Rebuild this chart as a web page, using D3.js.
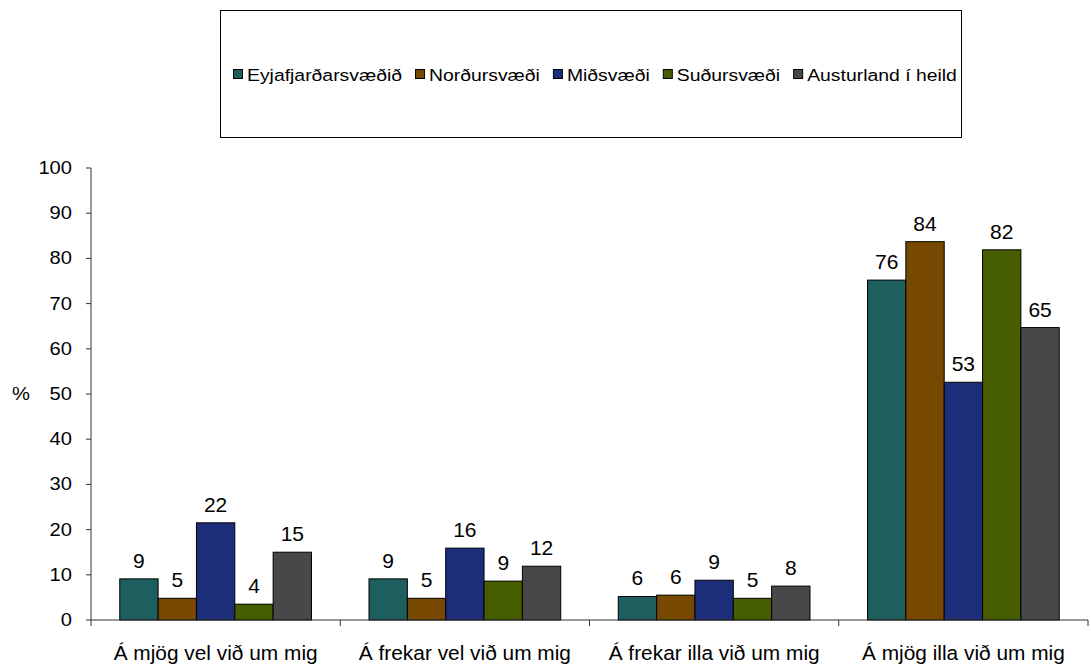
<!DOCTYPE html>
<html>
<head>
<meta charset="utf-8">
<script src="https://cdn.jsdelivr.net/npm/d3@7"></script>
<style>
  html, body { margin: 0; padding: 0; background: #fff; }
  svg { display: block; font-family: "Liberation Sans", Arial, sans-serif; }
</style>
</head>
<body>
<svg id="chart" width="1091" height="669"></svg>
<script>
// ---- data ----
const categories = ["Á mjög vel við um mig", "Á frekar vel við um mig", "Á frekar illa við um mig", "Á mjög illa við um mig"];
const seriesNames = ["Eyjafjarðarsvæðið", "Norðursvæði", "Miðsvæði", "Suðursvæði", "Austurland í heild"];
// bar heights (%)
const eyjafjardarsvaedid = [9.1, 9.1, 5.2, 75.2];
const nordursvaedi       = [4.8, 4.8, 5.5, 83.7];
const midsvaedi          = [21.5, 15.9, 8.8, 52.6];
const sudursvaedi        = [3.5, 8.6, 4.8, 81.9];
const austurland         = [15.0, 11.9, 7.5, 64.7];
// printed data labels
const labelsEyja   = ["9", "9", "6", "76"];
const labelsNord   = ["5", "5", "6", "84"];
const labelsMid    = ["22", "16", "9", "53"];
const labelsSud    = ["4", "9", "5", "82"];
const labelsAust   = ["15", "12", "8", "65"];
const yTicks = [0, 10, 20, 30, 40, 50, 60, 70, 80, 90, 100];
const colors = ["#1d5f5f", "#774800", "#1c2e7a", "#475e00", "#484848"];

const seriesValues = [eyjafjardarsvaedid, nordursvaedi, midsvaedi, sudursvaedi, austurland];
const seriesLabels = [labelsEyja, labelsNord, labelsMid, labelsSud, labelsAust];

const svg = d3.select("#chart");

// ---- scales ----
const x0 = d3.scaleBand().domain(categories).range([91, 1088]).paddingInner(0).paddingOuter(0);
const x1 = d3.scaleBand().domain(seriesNames).range([0, x0.bandwidth()]).paddingInner(0).paddingOuter(0.75);
const y = d3.scaleLinear().domain([0, 100]).range([620, 168]);
const color = d3.scaleOrdinal().domain(seriesNames).range(colors);

// helper for horizontally stretched text
function stretchedText(parent, x, yy, txt, size, sx, anchor) {
  const g = parent.append("g").attr("transform", `translate(${x},${yy}) scale(${sx},1)`);
  return g.append("text").attr("x", 0).attr("y", 0)
    .attr("font-size", size).attr("text-anchor", anchor).attr("fill", "#000").text(txt);
}

// ---- bars ----
const rows = [];
categories.forEach((c, ci) => {
  seriesNames.forEach((s, si) => {
    rows.push({ cat: c, series: s, value: seriesValues[si][ci], label: seriesLabels[si][ci] });
  });
});

svg.append("g").selectAll("rect").data(rows).join("rect")
  .attr("x", d => x0(d.cat) + x1(d.series))
  .attr("y", d => y(d.value))
  .attr("width", x1.bandwidth())
  .attr("height", d => y(0) - y(d.value))
  .attr("fill", d => color(d.series))
  .attr("stroke", "#000")
  .attr("stroke-width", 1);

// data labels
const lblG = svg.append("g");
rows.forEach(d => {
  stretchedText(lblG, x0(d.cat) + x1(d.series) + x1.bandwidth() / 2, y(d.value) - 11, d.label, 20, 1.05, "middle");
});

// ---- y axis ----
const yAxis = svg.append("g");
yAxis.append("line").attr("x1", 91).attr("x2", 91).attr("y1", y(100)).attr("y2", y(0))
  .attr("stroke", "#333").attr("stroke-width", 1);
yTicks.forEach(t => {
  yAxis.append("line").attr("x1", 86).attr("x2", 91).attr("y1", y(t)).attr("y2", y(t))
    .attr("stroke", "#333").attr("stroke-width", 1);
  stretchedText(yAxis, 72, y(t) + 6, String(t), 17.5, 1.15, "end");
});
stretchedText(svg, 21, y(50) + 6, "%", 17.5, 1.15, "middle");

// ---- x axis ----
const xAxis = svg.append("g");
xAxis.append("line").attr("x1", 91).attr("x2", 1088).attr("y1", y(0)).attr("y2", y(0))
  .attr("stroke", "#333").attr("stroke-width", 1);
const bounds = categories.map(c => x0(c)).concat([x0(categories[categories.length - 1]) + x0.bandwidth()]);
bounds.forEach(b => {
  xAxis.append("line").attr("x1", b).attr("x2", b).attr("y1", y(0)).attr("y2", y(0) + 6)
    .attr("stroke", "#333").attr("stroke-width", 1);
});
categories.forEach(c => {
  stretchedText(xAxis, x0(c) + x0.bandwidth() / 2, 660, c, 19.5, 1.07, "middle");
});

// ---- legend ----
const leg = svg.append("g");
leg.append("rect").attr("x", 220.5).attr("y", 10.5).attr("width", 741).attr("height", 127)
  .attr("fill", "#fff").attr("stroke", "#000").attr("stroke-width", 1);
let lx = 233;
seriesNames.forEach(s => {
  leg.append("rect").attr("x", lx + 0.5).attr("y", 69.5).attr("width", 9).attr("height", 9)
    .attr("fill", color(s)).attr("stroke", "#000").attr("stroke-width", 1);
  const t = stretchedText(leg, lx + 14, 81, s, 17, 1.14, "start");
  const w = t.node().getComputedTextLength() * 1.14;
  lx = lx + 14 + w + 13;
});
</script>
</body>
</html>
